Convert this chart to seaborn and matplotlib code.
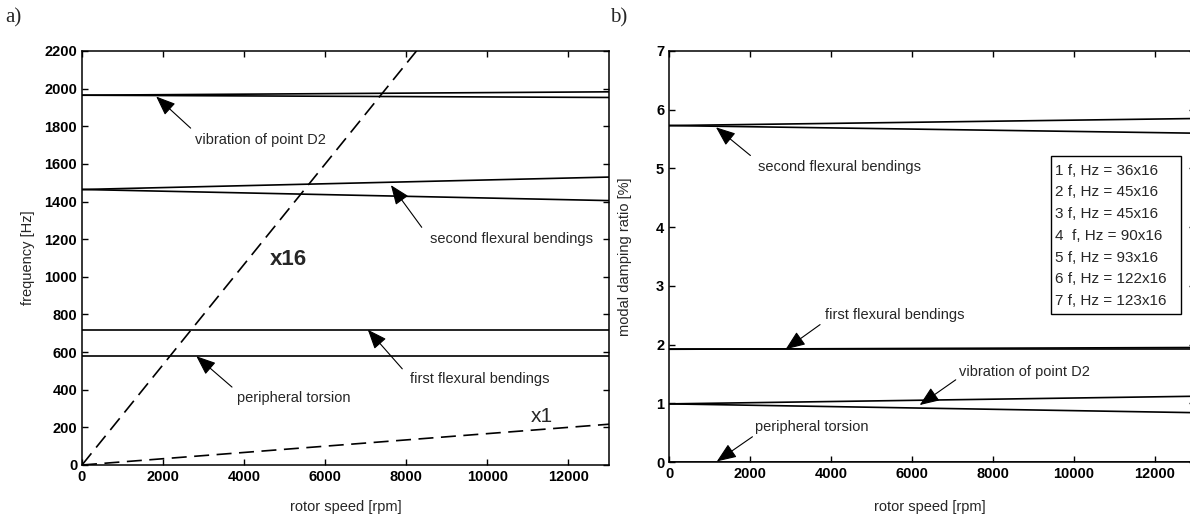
import matplotlib
matplotlib.use("Agg")
import matplotlib.pyplot as plt
import seaborn as sns
from matplotlib.patches import Rectangle

# rotor speed range [rpm] over which each mode curve is drawn
speed_rpm = [0, 13000]

# natural frequencies [Hz]
freq_torsion = [580, 580]
freq_flex1 = [717, 717]
freq_flex2_up = [1464, 1530]
freq_flex2_low = [1464, 1405]
freq_d2_up = [1965, 1983]
freq_d2_low = [1965, 1953]

# excitation orders x1 and x16 of the rotor speed [Hz]
order_x1 = [0, 216.7]
order_x16 = [0, 3466.7]

# modal damping ratio [%]
damp_torsion = [0.0, 0.0]
damp_d2_up = [0.99, 1.12]
damp_d2_low = [0.99, 0.84]
damp_flex1_a = [1.92, 1.92]
damp_flex1_b = [1.92, 1.95]
damp_flex2_up = [5.73, 5.85]
damp_flex2_low = [5.73, 5.60]

speed_ticks = list(range(0, 12001, 2000))
freq_ticks = list(range(0, 2201, 200))
damp_ticks = list(range(0, 8))

legend_labels = [
    "1 f, Hz = 36x16",
    "2 f, Hz = 45x16",
    "3 f, Hz = 45x16",
    "4  f, Hz = 90x16",
    "5 f, Hz = 93x16",
    "6 f, Hz = 122x16",
    "7 f, Hz = 123x16",
]

sns.set_theme(style="ticks")
plt.rcParams["font.family"] = ["Liberation Sans", "DejaVu Sans"]
plt.rcParams.update({
    "axes.linewidth": 1.1,
    "xtick.direction": "in",
    "ytick.direction": "in",
    "xtick.top": True,
    "ytick.right": True,
    "xtick.major.size": 4,
    "ytick.major.size": 4,
    "xtick.major.width": 1.0,
    "ytick.major.width": 1.0,
    "xtick.labelsize": 10.5,
    "ytick.labelsize": 10.5,
    "axes.edgecolor": "black",
    "xtick.color": "black",
    "ytick.color": "black",
})

fig = plt.figure(figsize=(11.9, 5.15), dpi=100)
ax1 = fig.add_axes([0.0689, 0.0971, 0.4429, 0.8039])
ax2 = fig.add_axes([0.5622, 0.1029, 0.4424, 0.7981])

LW = 1.2
TXT = 10.5
arrow_style = dict(arrowstyle="-|>,head_length=0.75,head_width=0.3",
                   color="black", lw=0.8, mutation_scale=16,
                   shrinkA=0, shrinkB=0)


def curve(ax, y, **kw):
    sns.lineplot(x=speed_rpm, y=y, ax=ax, color="black", lw=LW, **kw)


def pointer(ax, tail, head):
    ax.annotate("", xy=head, xytext=tail, arrowprops=arrow_style)


# ---- a) natural frequencies (Campbell diagram) ----
for y in (freq_torsion, freq_flex1, freq_flex2_up, freq_flex2_low,
          freq_d2_up, freq_d2_low):
    curve(ax1, y)
curve(ax1, order_x16, linestyle=(0, (9, 4.5)), dashes=False)
curve(ax1, order_x1, linestyle=(0, (9, 4.5)), dashes=False)

ax1.set_xlim(0, 13000)
ax1.set_ylim(0, 2200)
ax1.set_xticks(speed_ticks)
ax1.set_yticks(freq_ticks)
ax1.set_xlabel("rotor speed [rpm]", fontsize=TXT)
ax1.set_ylabel("frequency [Hz]", fontsize=TXT)
ax1.xaxis.set_label_coords(0.5, -0.085)
ax1.yaxis.set_label_coords(-0.089, 0.5)

ax1.text(4390, 1729, "vibration of point D2", ha="center", va="center", fontsize=TXT)
pointer(ax1, (2680, 1790), (1830, 1958))
ax1.text(10600, 1201, "second flexural bendings", ha="center", va="center", fontsize=TXT)
pointer(ax1, (8380, 1263), (7620, 1487))
ax1.text(9800, 458, "first flexural bendings", ha="center", va="center", fontsize=TXT)
pointer(ax1, (7900, 511), (7050, 719))
ax1.text(5230, 358, "peripheral torsion", ha="center", va="center", fontsize=TXT)
pointer(ax1, (3700, 414), (2820, 578))
ax1.text(5100, 1093, "x16", ha="center", va="center", fontsize=16, fontweight="bold")
ax1.text(11350, 256, "x1", ha="center", va="center", fontsize=15)

# ---- b) modal damping ratio ----
for y in (damp_torsion, damp_d2_up, damp_d2_low, damp_flex1_a, damp_flex1_b,
          damp_flex2_up, damp_flex2_low):
    curve(ax2, y)

ax2.set_xlim(0, 13000)
ax2.set_ylim(0, 7)
ax2.set_xticks(speed_ticks)
ax2.set_yticks(damp_ticks)
ax2.set_xlabel("rotor speed [rpm]", fontsize=TXT)
ax2.set_ylabel("modal damping ratio [%]", fontsize=TXT)
ax2.xaxis.set_label_coords(0.496, -0.092)
ax2.yaxis.set_label_coords(-0.070, 0.5)

ax2.text(4220, 5.02, "second flexural bendings", ha="center", va="center", fontsize=TXT)
pointer(ax2, (2010, 5.22), (1160, 5.70))
ax2.text(5570, 2.50, "first flexural bendings", ha="center", va="center", fontsize=TXT)
pointer(ax2, (3730, 2.34), (2880, 1.92))
ax2.text(8780, 1.54, "vibration of point D2", ha="center", va="center", fontsize=TXT)
pointer(ax2, (7080, 1.40), (6190, 0.97))
ax2.text(3520, 0.60, "peripheral torsion", ha="center", va="center", fontsize=TXT)
pointer(ax2, (2060, 0.43), (1180, 0.01))

# mode list box
ax2.add_patch(Rectangle((9440, 2.52), 3200, 2.70, facecolor="white",
                        edgecolor="black", lw=1.0, zorder=3))
for i, lab in enumerate(legend_labels):
    ax2.text(9520, 4.96 - 0.37 * i, lab, ha="left", va="center",
             fontsize=11, zorder=4)

for ax in (ax1, ax2):
    for s in ax.spines.values():
        s.set_visible(True)
        s.set_color("black")
    for lab in ax.get_xticklabels() + ax.get_yticklabels():
        lab.set_fontweight("bold")

fig.text(5 / 1190, 1 - 18 / 515, "a)", family="Liberation Serif", fontsize=15,
         ha="left", va="center")
fig.text(610 / 1190, 1 - 18 / 515, "b)", family="Liberation Serif", fontsize=15,
         ha="left", va="center")

fig.savefig("out.png", dpi=100)
